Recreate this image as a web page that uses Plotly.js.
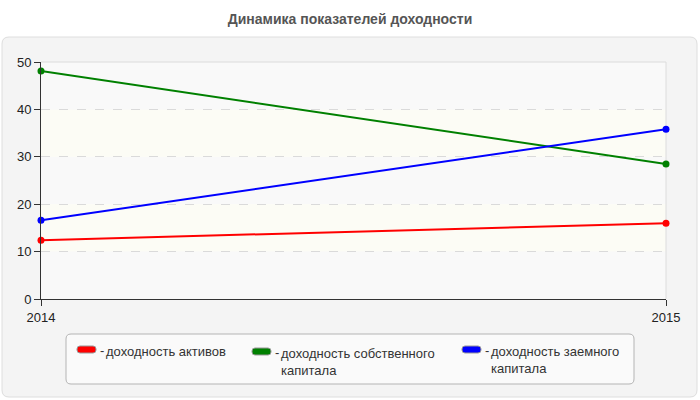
<!DOCTYPE html>
<html>
<head>
<meta charset="utf-8">
<script src="https://cdn.plot.ly/plotly-3.0.1.min.js"></script>
<style>
  html, body { margin: 0; padding: 0; background: #fff; }
  #chart { width: 700px; height: 400px; }
</style>
</head>
<body>
<div id="chart"></div>
<script>
// data
var years = [2014, 2015];
var seriesNames = [
    "доходность активов",
    "доходность собственного<br>капитала",
    "доходность заемного<br>капитала"
];
var seriesColors = ["#ff0000", "#008000", "#0000ff"];
var assetsReturn = [12.4, 16.0];
var equityReturn = [48.1, 28.5];
var debtReturn = [16.6, 35.8];
var yTicks = [0, 10, 20, 30, 40, 50];

var seriesValues = [assetsReturn, equityReturn, debtReturn];

// plot area in pixels
var M = {l: 41, r: 34, t: 62, b: 101};
var W = 700, H = 400;
var plotW = W - M.l - M.r, plotH = H - M.t - M.b;
function px2x(px) { return (px - M.l) / plotW; }
function px2y(py) { return (H - M.b - py) / plotH; }

// rounded rect path, screen pixels -> pixel coords relative to paper (0,0), y up
function roundRect(x0, y0, x1, y1, r) {
    var ox = M.l, oy = H - M.b;
    var L = x0 - ox, R = x1 - ox, T = oy - y0, B = oy - y1;
    return 'M ' + (L + r) + ' ' + T +
        ' L ' + (R - r) + ' ' + T + ' Q ' + R + ' ' + T + ' ' + R + ' ' + (T - r) +
        ' L ' + R + ' ' + (B + r) + ' Q ' + R + ' ' + B + ' ' + (R - r) + ' ' + B +
        ' L ' + (L + r) + ' ' + B + ' Q ' + L + ' ' + B + ' ' + L + ' ' + (B + r) +
        ' L ' + L + ' ' + (T - r) + ' Q ' + L + ' ' + T + ' ' + (L + r) + ' ' + T + ' Z';
}
function pixelShape(path, fill, line, lw) {
    return {
        type: 'path', layer: 'below',
        xref: 'paper', yref: 'paper',
        xsizemode: 'pixel', ysizemode: 'pixel',
        xanchor: 0, yanchor: 0,
        path: path,
        fillcolor: fill,
        line: {color: line, width: lw}
    };
}

var data = [];
for (var i = 0; i < seriesValues.length; ++i) {
    data.push({
        type: 'scatter',
        mode: 'lines+markers',
        x: years,
        y: seriesValues[i],
        name: seriesNames[i].replace('<br>', ' '),
        line: {color: seriesColors[i], width: 2},
        marker: {color: seriesColors[i], size: 7},
        cliponaxis: false,
        showlegend: false
    });
}

var shapes = [];
// outer panel
shapes.push(pixelShape(roundRect(2, 37, 697, 397, 7), '#f4f4f4', '#dedede', 1));
// plot background
shapes.push({type: 'rect', layer: 'below', xref: 'paper', yref: 'paper',
    x0: 0, x1: 1, y0: 0, y1: 1, fillcolor: '#f9f9f9', line: {width: 0}});
// alternating bands
for (var k = 1; k < yTicks.length - 1; k += 2) {
    shapes.push({type: 'rect', layer: 'below', xref: 'paper', yref: 'y',
        x0: 0, x1: 1, y0: yTicks[k], y1: yTicks[k + 1],
        fillcolor: '#fcfcf5', line: {width: 0}});
}
// light top / right border
shapes.push({type: 'path', layer: 'below', xref: 'paper', yref: 'paper',
    path: 'M 0 1 L 1 1 L 1 0', line: {color: '#dcdcdc', width: 1}});
// legend box
shapes.push(pixelShape(roundRect(66, 334, 634, 384, 5), '#fafafa', '#b4b4b4', 1));

// legend entries
var legendX = [77, 252, 462];
var legendY = [346, 348, 346];
var annotations = [];
var legendFont = {family: 'Arial, Liberation Sans', size: 13, color: '#333'};
for (var i = 0; i < seriesNames.length; ++i) {
    var sx = legendX[i], sy = legendY[i];
    shapes.push(pixelShape(roundRect(sx, sy, sx + 19, sy + 7, 3),
        seriesColors[i], '#999', 1));
    annotations.push({
        xref: 'paper', yref: 'paper', x: px2x(sx + 21), y: px2y(sy + 4),
        xanchor: 'left', yanchor: 'middle', showarrow: false,
        text: '-', font: legendFont
    });
    annotations.push({
        xref: 'paper', yref: 'paper', x: px2x(sx + 27), y: px2y(sy - 4),
        xanchor: 'left', yanchor: 'top', align: 'left', showarrow: false,
        text: seriesNames[i], font: legendFont
    });
}

var layout = {
    width: W, height: H,
    margin: M,
    paper_bgcolor: '#ffffff',
    plot_bgcolor: 'rgba(0,0,0,0)',
    font: {family: 'Arial, Liberation Sans', size: 12, color: '#333'},
    title: {
        text: 'Динамика показателей доходности',
        xref: 'container', x: 0.5, xanchor: 'center',
        yref: 'container', y: 1 - 19 / H, yanchor: 'middle',
        font: {family: 'Arial, Liberation Sans', size: 14, weight: 'bold', color: '#555'}
    },
    showlegend: false,
    xaxis: {
        range: [years[0], years[years.length - 1]],
        tickvals: years,
        ticktext: years.map(String),
        showgrid: false,
        zeroline: false,
        showline: true, linecolor: '#333', linewidth: 1,
        ticks: 'outside', ticklen: 6, tickcolor: '#333',
        tickfont: {size: 13, color: '#222'}
    },
    yaxis: {
        range: [0, 50],
        tickvals: yTicks,
        showgrid: true, gridcolor: '#dadada', griddash: 'dash', gridwidth: 1,
        zeroline: false,
        showline: true, linecolor: '#333', linewidth: 1,
        ticks: 'outside', ticklen: 6, tickcolor: '#333',
        tickfont: {size: 13, color: '#222'}
    },
    shapes: shapes,
    annotations: annotations
};

Plotly.newPlot('chart', data, layout, {displayModeBar: false, staticPlot: true});
</script>
</body>
</html>
